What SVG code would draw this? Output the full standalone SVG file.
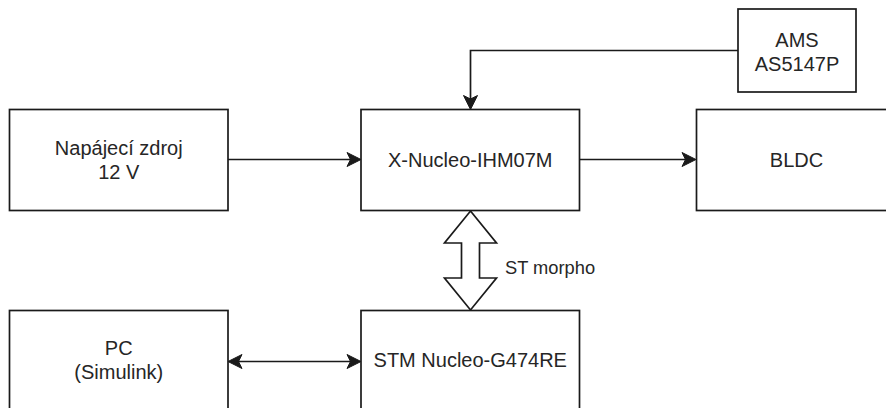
<svg xmlns="http://www.w3.org/2000/svg" width="886" height="408" viewBox="0 0 886 408">
  <style>
    .box { fill: #ffffff; stroke: #1a1a1a; stroke-width: 1.7; }
    .lbl { font-family: "Liberation Sans", Arial, sans-serif; font-size: 20px; fill: #262626; text-anchor: middle; }
    .elbl { font-family: "Liberation Sans", Arial, sans-serif; font-size: 18.3px; fill: #262626; }
    .edge { fill: none; stroke: #1a1a1a; stroke-width: 1.7; }
  </style>
  <defs>
    <marker id="arr" markerUnits="userSpaceOnUse" orient="auto-start-reverse" refX="0" refY="0" markerWidth="20" markerHeight="20" overflow="visible">
      <path d="M9,0 L-5,-7 L-1.5,0 L-5,7 Z" fill="#1a1a1a" stroke="#1a1a1a" stroke-width="1" stroke-linejoin="miter"/>
    </marker>
  </defs>
  <rect width="886" height="408" fill="#ffffff"/>

  <g id="connectors">
    <path class="edge" d="M228,159.5 L352,159.5" marker-end="url(#arr)"/>
    <path class="edge" d="M579,159.5 L687,159.5" marker-end="url(#arr)"/>
    <path class="edge" d="M738,50.5 L470.5,50.5 L470.5,100.5" marker-end="url(#arr)"/>
    <path class="edge" d="M237,361.5 L352,361.5" marker-start="url(#arr)" marker-end="url(#arr)"/>
    <path d="M470.5,211 L496.5,243 L479.5,243 L479.5,278 L496.5,278 L470.5,310 L444.5,278 L461.5,278 L461.5,243 L444.5,243 Z" fill="#ffffff" stroke="#1a1a1a" stroke-width="1.7" stroke-linejoin="miter"/>
    <text class="elbl" x="505" y="274">ST morpho</text>
  </g>

  <g id="napajeci">
    <rect class="box" x="9.5" y="109.5" width="218.5" height="101"/>
    <text class="lbl" x="118.75" y="155">Napájecí zdroj</text>
    <text class="lbl" x="118.75" y="179">12 V</text>
  </g>

  <g id="xnucleo">
    <rect class="box" x="361" y="109.5" width="218.5" height="101"/>
    <text class="lbl" x="470.25" y="166.5">X-Nucleo-IHM07M</text>
  </g>

  <g id="bldc">
    <rect class="box" x="696.5" y="109.5" width="200" height="101"/>
    <text class="lbl" x="796.5" y="166.5">BLDC</text>
  </g>

  <g id="ams">
    <rect class="box" x="738" y="9" width="118" height="83"/>
    <text class="lbl" x="797" y="46.5">AMS</text>
    <text class="lbl" x="797" y="70.5">AS5147P</text>
  </g>

  <g id="pc">
    <rect class="box" x="9.5" y="310.5" width="218.5" height="101"/>
    <text class="lbl" x="118.75" y="354.5">PC</text>
    <text class="lbl" x="118.75" y="378.5">(Simulink)</text>
  </g>

  <g id="stm">
    <rect class="box" x="361" y="310.5" width="218.5" height="101"/>
    <text class="lbl" x="470.25" y="366.5">STM Nucleo-G474RE</text>
  </g>
</svg>
